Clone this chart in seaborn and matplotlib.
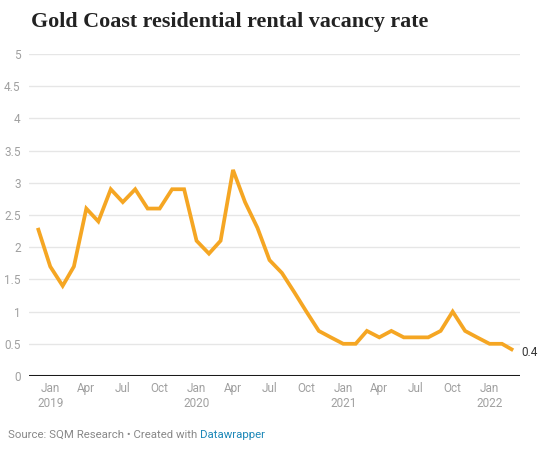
import matplotlib
matplotlib.use("Agg")
import matplotlib.pyplot as plt
import seaborn as sns
import pandas as pd

months = pd.date_range("2018-12-01", "2022-03-01", freq="MS")
vacancy = [2.3, 1.7, 1.4, 1.7, 2.6, 2.4, 2.9, 2.7, 2.9, 2.6, 2.6, 2.9, 2.9,
           2.1, 1.9, 2.1, 3.2, 2.7, 2.3, 1.8, 1.6, 1.3, 1.0, 0.7, 0.6,
           0.5, 0.5, 0.7, 0.6, 0.7, 0.6, 0.6, 0.6, 0.7, 1.0, 0.7, 0.6,
           0.5, 0.5, 0.4]
tick_dates = pd.to_datetime(["2019-01-01", "2019-04-01", "2019-07-01", "2019-10-01",
                             "2020-01-01", "2020-04-01", "2020-07-01", "2020-10-01",
                             "2021-01-01", "2021-04-01", "2021-07-01", "2021-10-01",
                             "2022-01-01"])
tick_labels = ["Jan\n2019", "Apr", "Jul", "Oct", "Jan\n2020", "Apr", "Jul", "Oct",
               "Jan\n2021", "Apr", "Jul", "Oct", "Jan\n2022"]
y_ticks = [0, 0.5, 1, 1.5, 2, 2.5, 3, 3.5, 4, 4.5, 5]
y_labels = ["0", "0.5", "1", "1.5", "2", "2.5", "3", "3.5", "4", "4.5", "5"]

df = pd.DataFrame({"month": months, "vacancy": vacancy})

sns.set_theme(style="white")
plt.rcParams["font.family"] = ["Roboto", "DejaVu Sans"]

fig = plt.figure(figsize=(5.54, 4.51), dpi=100)
ax = fig.add_axes([29/554, 1-376/451, (520-29)/554, (376-54)/451])

sns.lineplot(data=df, x="month", y="vacancy", ax=ax, color="#f5a623", linewidth=2.7,
             solid_joinstyle="miter", solid_capstyle="butt", zorder=3)

ax.set_ylim(0, 5)
day = pd.Timedelta(days=1)
ax.set_xlim(months[0] - 22*day, months[-1] + 17*day)
ax.set_yticks(y_ticks)
ax.set_yticklabels(y_labels)
ax.set_xticks(tick_dates)
ax.set_xticklabels(tick_labels)
ax.grid(axis="y", color="#e6e6e6", linewidth=1)
ax.grid(axis="x", visible=False)
ax.axhline(0, color="#1a1a1a", linewidth=2.2, zorder=4)
for s in ax.spines.values():
    s.set_visible(False)
ax.tick_params(axis="y", length=0, pad=6, labelsize=8.5, labelcolor="#a0a0a0")
ax.tick_params(axis="x", length=0, pad=4, labelsize=8.5, labelcolor="#a0a0a0")
for lbl in ax.get_yticklabels():
    lbl.set_horizontalalignment("right")
ax.set_xlabel("")
ax.set_ylabel("")

ax.annotate(f"{vacancy[-1]}", xy=(months[-1], vacancy[-1]), xytext=(6, -1.5),
            textcoords="offset points", ha="left", va="center", fontsize=8.5, color="#333333")

fig.text(31/554, 1-22/451, "Gold Coast residential rental vacancy rate",
         fontsize=15.8, fontweight="bold", family=["Liberation Serif"], color="#222222",
         ha="left", va="center")

t1 = fig.text(8/554, 1-435/451, "Source: SQM Research • Created with ", fontsize=8.2,
              color="#888888", ha="left", va="center")
fig.canvas.draw()
bb = t1.get_window_extent()
fig.text(bb.x1/fig.bbox.width, 1-435/451, "Datawrapper", fontsize=8.2,
         color="#1d88b8", ha="left", va="center")

fig.savefig("out.png", dpi=100)
